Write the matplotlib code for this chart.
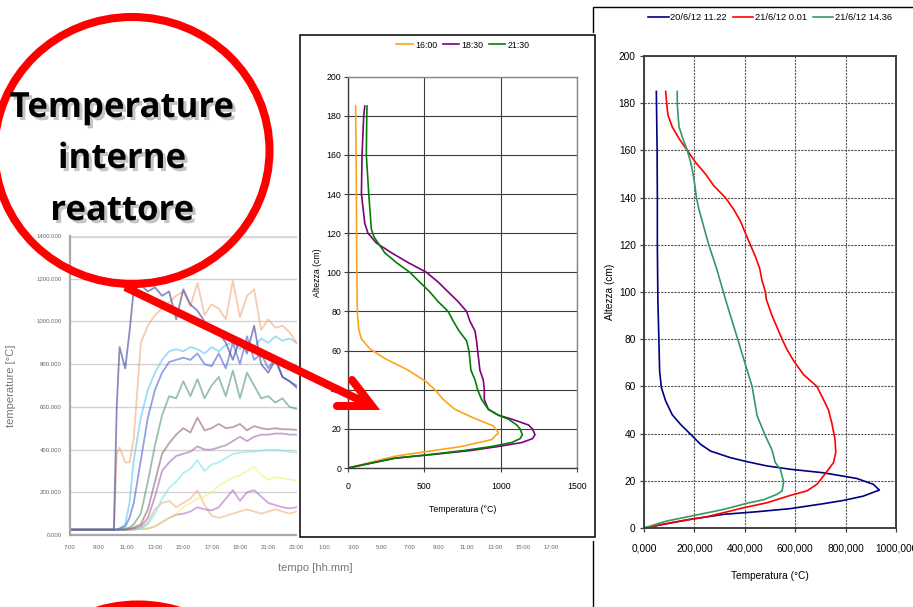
import matplotlib
matplotlib.use('Agg')
import matplotlib.pyplot as plt
import matplotlib.patches as mpatches
import matplotlib.patheffects as pe
from matplotlib.lines import Line2D

W, H = 913, 607
plt.rcParams['font.family'] = ['Liberation Sans', 'DejaVu Sans']

# ---------------- data: background time-series chart ----------------
bg_time_labels = ['7:00', '9:00', '11:00', '13:00', '15:00', '17:00', '19:00', '21:00', '23:00',
                  '1:00', '3:00', '5:00', '7:00', '9:00', '11:00', '13:00', '15:00', '17:00']
bg_yticks = [0, 200, 400, 600, 800, 1000, 1200, 1400]
bg_t = [0, 3.1, 3.3, 3.5, 3.9, 4.2, 4.5, 5.0, 5.5, 6.0, 6.5, 7.0, 7.5, 8.0, 8.5, 9.0,
        9.5, 10.0, 10.5, 11.0, 11.5, 12.0, 12.5, 13.0, 13.5, 14.0, 14.5, 15.0, 15.5, 16.0, 17.0]
bg_navy = [25, 25, 600, 880, 780, 950, 1150, 1170, 1140, 1160, 1120, 1140, 1010, 1150, 1080, 1050,
           1000, 980, 950, 900, 820, 920, 850, 980, 800, 760, 820, 740, 720, 690, 650]
bg_orange = [25, 25, 380, 410, 340, 340, 450, 900, 980, 1030, 1060, 1090, 1120, 1140, 1070, 1180,
             1030, 1080, 1060, 1010, 1190, 1020, 1120, 1150, 960, 1010, 970, 980, 950, 900, 870]
bg_cyan = [25, 25, 25, 30, 50, 150, 350, 550, 680, 760, 820, 860, 870, 860, 880, 870,
           850, 880, 860, 890, 900, 870, 900, 880, 920, 900, 930, 910, 920, 900, 900]
bg_blue = [25, 25, 25, 30, 40, 80, 150, 350, 550, 680, 760, 810, 820, 830, 820, 850,
           800, 790, 850, 780, 900, 800, 930, 820, 850, 780, 830, 740, 720, 700, 680]
bg_green = [25, 25, 25, 25, 30, 35, 50, 100, 250, 420, 560, 650, 640, 720, 650, 730,
            640, 700, 740, 650, 770, 640, 760, 700, 640, 650, 620, 640, 600, 590, 580]
bg_brown = [25, 25, 25, 25, 25, 30, 35, 50, 120, 250, 380, 430, 470, 500, 480, 550,
            490, 500, 520, 500, 505, 520, 490, 510, 500, 495, 500, 495, 495, 492, 490]
bg_purple = [25, 25, 25, 25, 25, 28, 30, 40, 80, 180, 300, 340, 370, 380, 390, 415,
             400, 400, 410, 420, 440, 460, 440, 460, 470, 470, 475, 475, 470, 470, 470]
bg_lightcyan = [25, 25, 25, 25, 25, 25, 28, 30, 50, 100, 170, 220, 250, 290, 310, 350,
                300, 330, 340, 360, 380, 385, 390, 390, 395, 398, 398, 395, 390, 385, 380]
bg_yellow = [25, 25, 25, 25, 25, 25, 25, 28, 30, 40, 60, 80, 100, 130, 150, 170,
             180, 200, 230, 250, 270, 280, 300, 320, 280, 260, 270, 265, 260, 255, 250]
bg_violet = [25, 25, 25, 25, 25, 25, 25, 28, 30, 40, 60, 80, 95, 100, 110, 130,
             120, 115, 130, 170, 210, 160, 200, 210, 180, 150, 140, 130, 125, 130, 130]
bg_loworange = [25, 25, 25, 25, 25, 25, 25, 30, 60, 120, 150, 160, 130, 150, 170, 210,
                140, 90, 80, 90, 100, 110, 120, 110, 100, 110, 120, 110, 100, 110, 110]

# ---------------- data: middle chart ----------------
mid_names = ['16:00', '18:30', '21:30']
h_1600 = [0, 6, 8.5, 11, 14.5, 18, 21.5, 26, 30, 35, 40, 44, 50, 56, 61, 66, 71, 80, 100, 120, 140, 160, 185]
T_1600 = [0, 306, 525, 744, 941, 985, 952, 810, 700, 624, 569, 514, 394, 240, 142, 88, 70, 61, 58, 56, 55, 53, 50]
h_1830 = [0, 5, 7, 9, 11, 13, 15, 17, 20, 22, 25, 27, 30, 35, 40, 45, 50, 60, 65, 70, 75, 80, 85,
          90, 95, 100, 105, 110, 115, 120, 125, 140, 160, 180, 185]
T_1830 = [0, 306, 569, 810, 985, 1138, 1208, 1225, 1208, 1182, 1072, 985, 919, 893, 893, 886, 864, 849,
          842, 832, 799, 777, 722, 656, 591, 514, 394, 285, 186, 131, 110, 88, 92, 103, 110]
h_2130 = [0, 5, 7, 9, 11, 13, 15, 17, 20, 22, 25, 27, 30, 35, 40, 45, 50, 55, 60, 65, 70, 75, 80,
          85, 90, 95, 100, 105, 110, 115, 118, 122, 140, 160, 180, 185]
T_2130 = [0, 306, 547, 766, 941, 1072, 1127, 1142, 1127, 1105, 1050, 985, 919, 875, 849, 832, 805, 799,
          792, 777, 728, 690, 656, 591, 536, 470, 405, 317, 241, 197, 171, 153, 136, 120, 123, 125]

# ---------------- data: right chart ----------------
right_names = ['20/6/12 11.22', '21/6/12 0.01', '21/6/12 14.36']
h_a = [0, 3.7, 5.8, 6.9, 8.2, 10.3, 11.7, 13.5, 16.1, 18.5, 21, 23.4, 24.9, 26.3, 28.1, 29.8, 32.6,
       35.5, 39.7, 43.9, 48, 53.8, 59.5, 66.5, 80, 97, 120, 140, 160, 185]
T_a = [0, 185, 317, 449, 580, 712, 792, 870, 934, 910, 844, 712, 580, 488, 409, 343, 264,
       224, 185, 145, 112, 86, 69, 62, 59, 55, 53, 53, 52, 49]
h_b = [0, 2.5, 4.8, 8.6, 10.7, 13.8, 15.7, 18.5, 22, 27.7, 32, 37.6, 44.6, 50, 54.5, 60, 65, 70.8,
       75.7, 80, 85, 90, 97, 100, 105, 110, 115, 120, 125, 130, 135, 140, 145, 150, 155, 160,
       165, 170, 175, 180, 185]
T_b = [0, 119, 251, 396, 488, 580, 646, 686, 712, 752, 761, 758, 745, 732, 712, 686, 633, 594,
       567, 548, 528, 508, 485, 482, 468, 459, 442, 422, 402, 383, 356, 323, 277, 244, 204, 172,
       139, 112, 95, 90, 86]
h_c = [0, 3, 5, 7.9, 10.5, 12, 14.3, 15.7, 19.5, 24.9, 27.7, 33, 39, 47.5, 60, 70.8, 80, 90, 97,
       110, 120, 130, 135, 140, 145, 150, 155, 160, 165, 170, 175, 180, 185]
T_c = [0, 92, 185, 317, 409, 475, 528, 548, 554, 541, 521, 508, 482, 449, 429, 398, 372, 343, 323,
       288, 257, 231, 218, 208, 202, 195, 185, 172, 154, 139, 135, 132, 132]

# ---------------- figure ----------------
fig = plt.figure(figsize=(W / 100, H / 100), dpi=100)
fig.patch.set_facecolor('white')


def box(x0, y0, x1, y1):
    return [x0 / W, 1 - y1 / H, (x1 - x0) / W, (y1 - y0) / H]


def fr(x0, y0, x1, y1):
    return (x0 / W, 1 - y1 / H), (x1 - x0) / W, (y1 - y0) / H


# ---- background chart ----
ax_bg = fig.add_axes(box(70, 236, 560, 535))
ax_bg.set_zorder(0)
ax_bg.set_xlim(0, 34.6)
ax_bg.set_ylim(0, 1400)
bg_series = [
    (bg_loworange, '#f3b27a'), (bg_violet, '#b46cc8'), (bg_yellow, '#f2f07a'),
    (bg_lightcyan, '#7fe3e6'), (bg_purple, '#9a6aae'), (bg_brown, '#94626e'),
    (bg_green, '#4f9a72'), (bg_cyan, '#5cc6f0'), (bg_blue, '#4a62d6'),
    (bg_orange, '#f2a878'), (bg_navy, '#3b3f9a'),
]
for vals, col in bg_series:
    ax_bg.plot(bg_t, vals, color=col, lw=1.3, alpha=0.6)
ax_bg.set_yticks(bg_yticks)
ax_bg.set_yticklabels([('%.3f' % v) for v in bg_yticks])
ax_bg.set_xticks(list(range(0, 35, 2)))
ax_bg.set_xticklabels(bg_time_labels)
ax_bg.tick_params(axis='both', length=0, labelsize=4.3, labelcolor='#666666')
ax_bg.tick_params(axis='y', pad=6)
ax_bg.tick_params(axis='x', pad=7)
for yv in bg_yticks[1:-1]:
    ax_bg.axhline(yv, color='#d2d2d2', lw=1.0, zorder=0)
ax_bg.axhline(1400, color='#d8d8d8', lw=2.5, zorder=0)
for s in ['top', 'right']:
    ax_bg.spines[s].set_visible(False)
for s in ['left', 'bottom']:
    ax_bg.spines[s].set_color('#a8a8a8')
    ax_bg.spines[s].set_linewidth(1.6)
ax_bg.set_xlabel('tempo [hh.mm]', fontsize=8, color='#777777')
ax_bg.xaxis.set_label_coords(0.5, -0.11)
ax_bg.xaxis.label.set_va('center')
ax_bg.set_ylabel('temperature [°C]', fontsize=8, color='#777777')
ax_bg.yaxis.set_label_coords(-0.12, 0.5)
ax_bg.yaxis.label.set_va('center')

# ---- right chart frame ----
xy, w, h = fr(593, 7, 930, 630)
fig.patches.append(mpatches.Rectangle(xy, w, h, transform=fig.transFigure, facecolor='white',
                                      edgecolor='black', lw=1.0, zorder=0.5))

# ---- right chart ----
ax_r = fig.add_axes(box(644, 56, 896, 528))
ax_r.set_zorder(1)
ax_r.set_xlim(0, 1000)
ax_r.set_ylim(0, 200)
ax_r.set_xticks(list(range(0, 1001, 200)))
ax_r.set_xticklabels([('%.3f' % v).replace('.', ',') for v in range(0, 1001, 200)])
ax_r.set_yticks(list(range(0, 201, 20)))
ax_r.grid(True, color='#555555', lw=0.8, ls=(0, (2, 1)))
ax_r.set_axisbelow(True)
for s in ax_r.spines.values():
    s.set_color('#404040')
    s.set_linewidth(1.4)
ax_r.tick_params(axis='both', direction='out', length=3, width=0.9, color='#404040', labelsize=7.3)
ax_r.tick_params(axis='x', pad=8)
ax_r.tick_params(axis='y', pad=3)
la, = ax_r.plot(T_a, h_a, color='#000080', lw=1.2, label=right_names[0])
lb, = ax_r.plot(T_b, h_b, color='#ff0000', lw=1.2, label=right_names[1])
lc, = ax_r.plot(T_c, h_c, color='#339966', lw=1.2, label=right_names[2])
ax_r.set_xlabel('Temperatura (°C)', fontsize=7.3)
ax_r.xaxis.set_label_coords(0.5, -0.102)
ax_r.xaxis.label.set_va('center')
ax_r.set_ylabel('Altezza (cm)', fontsize=7.3)
ax_r.yaxis.set_label_coords(-0.135, 0.5)
ax_r.yaxis.label.set_va('center')
ax_r.legend(handles=[la, lb, lc], loc='center', bbox_to_anchor=(770 / W, 1 - 18 / H),
            bbox_transform=fig.transFigure, ncol=3, frameon=False, fontsize=6.7,
            handlelength=2.2, handletextpad=0.2, columnspacing=0.6, borderaxespad=0)

# ---- middle chart box ----
xy, w, h = fr(297, 33, 598, 541)
fig.patches.append(mpatches.Rectangle(xy, w, h, transform=fig.transFigure, facecolor='white',
                                      edgecolor='none', zorder=1.5))
xy, w, h = fr(300, 35, 595, 537)
fig.patches.append(mpatches.Rectangle(xy, w, h, transform=fig.transFigure, facecolor='white',
                                      edgecolor='black', lw=1.1, zorder=1.6))

# ---- middle chart ----
ax_m = fig.add_axes(box(348, 76.7, 577, 468))
ax_m.set_zorder(2)
ax_m.set_xlim(0, 1500)
ax_m.set_ylim(0, 200)
ax_m.set_xticks([0, 500, 1000, 1500])
ax_m.set_yticks(list(range(0, 201, 20)))
ax_m.grid(True, color='#3c3c3c', lw=0.8)
ax_m.set_axisbelow(True)
for s in ax_m.spines.values():
    s.set_color('#888888')
    s.set_linewidth(1.0)
ax_m.spines['left'].set_color('#404040')
ax_m.spines['bottom'].set_color('#404040')
ax_m.tick_params(axis='both', direction='out', length=3, width=0.8, color='#404040', labelsize=6.3)
ax_m.tick_params(axis='x', pad=7)
ax_m.tick_params(axis='y', pad=2)
m1, = ax_m.plot(T_1600, h_1600, color='#ffa31a', lw=1.2, label=mid_names[0])
m2, = ax_m.plot(T_1830, h_1830, color='#800080', lw=1.2, label=mid_names[1])
m3, = ax_m.plot(T_2130, h_2130, color='#008000', lw=1.2, label=mid_names[2])
ax_m.set_xlabel('Temperatura (°C)', fontsize=6.3)
ax_m.xaxis.set_label_coords(0.5, -0.105)
ax_m.xaxis.label.set_va('center')
ax_m.set_ylabel('Altezza (cm)', fontsize=6.3)
ax_m.yaxis.set_label_coords(-0.135, 0.5)
ax_m.yaxis.label.set_va('center')
ax_m.legend(handles=[m1, m2, m3], loc='center', bbox_to_anchor=(463 / W, 1 - 45 / H),
            bbox_transform=fig.transFigure, ncol=3, frameon=False, fontsize=6.3,
            handlelength=1.9, handletextpad=0.25, columnspacing=0.6, borderaxespad=0)

# ---- overlay (callout, arrow, text) in pixel coordinates ----
ov = fig.add_axes([0, 0, 1, 1])
ov.set_zorder(3)
ov.set_xlim(0, W)
ov.set_ylim(H, 0)
ov.axis('off')
ov.patch.set_alpha(0)

ov.add_patch(mpatches.Ellipse((132, 150.5), 275, 267, facecolor='none', edgecolor='#ff0000', lw=5.8))
ov.add_patch(mpatches.Ellipse((138, 738), 275, 267, facecolor='none', edgecolor='#ff0000', lw=5.8))

ov.add_line(Line2D([125, 371], [287, 405.5], color='#ff0000', lw=5.8, solid_capstyle='butt'))
ov.add_line(Line2D([352, 372, 337], [380, 406, 406], color='#ff0000', lw=5.8,
                   solid_capstyle='round', solid_joinstyle='miter'))

shadow = [pe.withSimplePatchShadow(offset=(2.2, -2.2), shadow_rgbFace='#8a8a8a', alpha=0.5)]
for txt, yb in [('Temperature', 117), ('interne', 168), ('reattore', 220)]:
    ov.text(122, yb, txt, ha='center', va='baseline', fontsize=25, fontweight='bold',
            family=['Open Sans', 'DejaVu Sans'], color='black', path_effects=shadow)

fig.savefig('out.png', dpi=100)
